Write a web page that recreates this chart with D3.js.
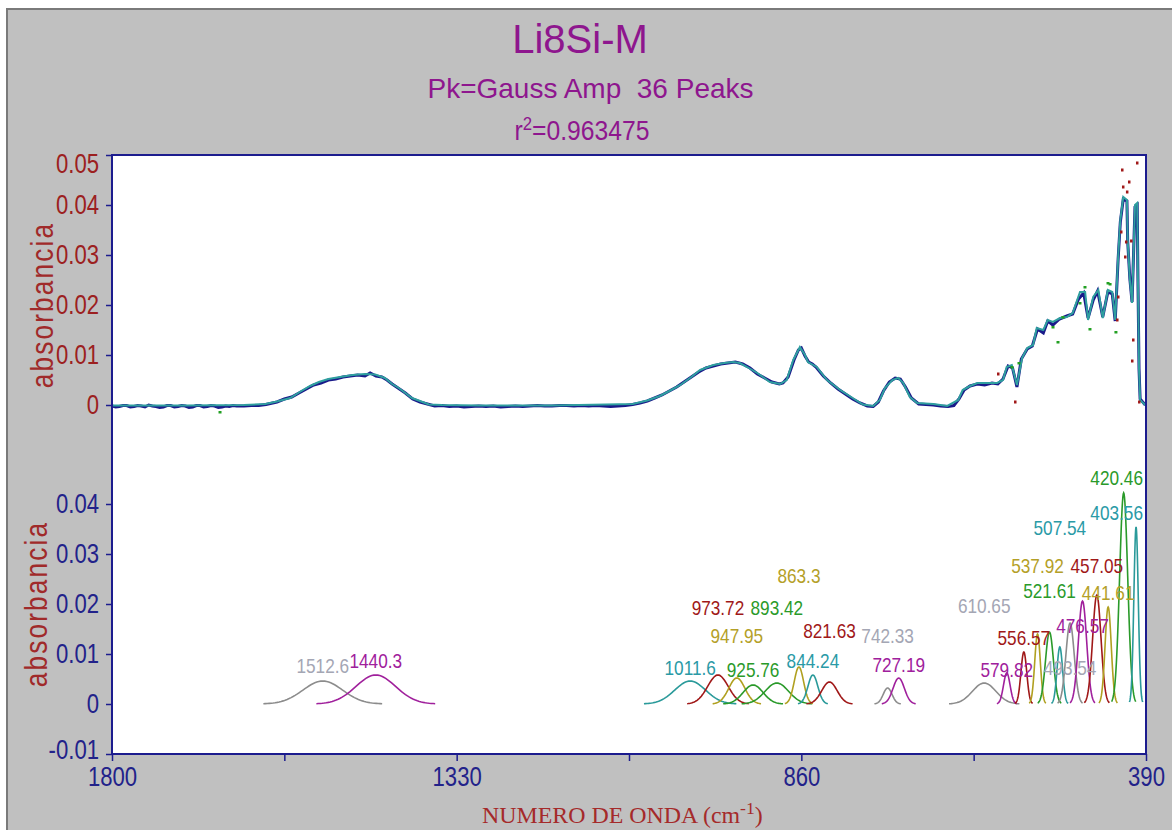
<!DOCTYPE html>
<html><head><meta charset="utf-8">
<script src="https://cdn.jsdelivr.net/npm/d3@7"></script>
<style>
html,body{margin:0;padding:0;background:#fff;}
svg{display:block;font-family:"Liberation Sans",Arial,sans-serif;}
</style></head><body>
<svg id="chart" width="1172" height="830"></svg>
<script>
// ---------------- DATA ----------------
const titleText = "Li8Si-M";
const subtitleText = "Pk=Gauss Amp  36 Peaks";
const r2Text = "0.963475";
const yAxisTitle = "absorbancia";
const xAxisTitle = "NUMERO DE ONDA (cm";

const xMajorTicks = [1800, 1330, 860, 390];
const xMinorTicks = [1565, 1095, 625];
const yTopTicks = [0, 0.01, 0.02, 0.03, 0.04, 0.05];
const yBotTicks = [-0.01, 0, 0.01, 0.02, 0.03, 0.04];

// fitted spectrum [wavenumber, absorbance]
const fitCurve = [
 [1800,-0.0001],[1700,-0.0001],[1620,0],[1591,0.0002],[1575,0.0007],[1557,0.0014],[1544,0.0026],
 [1530,0.0038],[1518,0.0046],[1505,0.0052],[1489,0.0056],[1472,0.006],[1455,0.0062],[1441,0.0061],
 [1428,0.0054],[1418,0.0042],[1409,0.0034],[1400,0.0024],[1391,0.0014],[1380,0.0008],[1368,0.0001],
 [1350,0],[1300,-0.0001],[1200,-0.0001],[1090,0.0002],[1070,0.0009],[1053,0.0018],[1040,0.0028],
 [1025,0.004],[1010,0.0056],[998,0.007],[980,0.008],[965,0.0084],[953,0.0086],[944,0.0084],
 [934,0.0076],[920,0.0064],[903,0.0046],[889,0.0042],[880,0.005],[871,0.009],[862,0.0116],
 [855,0.01],[851,0.0086],[839,0.0076],[825,0.005],[807,0.003],[790,0.0014],[776,0.0001],
 [762,-0.0002],[753,0.001],[746,0.0034],[736,0.005],[728,0.0054],[721,0.0044],[712,0.0016],
 [702,0.0004],[680,0.0002],[661,-0.0002],[646,0.001],[640,0.003],[630,0.0038],[620,0.0044],
 [593,0.0044],[585,0.005],[580,0.0076],[573,0.008],[566,0.004],[559,0.0094],[552,0.0114],
 [544,0.012],[539,0.0154],[530,0.015],[524,0.017],[517,0.0166],[507,0.0174],[498,0.0176],
 [490,0.0184],[480,0.0226],[473,0.0226],[469,0.017],[462,0.0216],[455,0.023],[449,0.0174],
 [442,0.023],[436,0.0226],[432,0.017],[428,0.0296],[425,0.037],[421,0.0416],[416,0.041],
 [415,0.033],[412,0.025],[409,0.0204],[405,0.04],[402,0.0404],[401,0.0256],[399.5,0.007],
 [398,0.001],[391,0]
];

// measured spectrum [wavenumber, absorbance]
const measured = [
 [1800,-0.0002],[1795,-0.0004],[1790,-0.0003],[1785,-0.0001],[1780,-0.0001],[1775,-0.0004],[1770,-0.0003],
 [1765,-0.0001],[1760,-0.0002],[1755,-0.0004],[1750,0],[1745,-0.0002],[1740,-0.0003],[1735,-0.0005],
 [1730,-0.0004],[1725,-0.0001],[1720,-0.0001],[1715,-0.0004],[1710,-0.0003],[1705,-0.0001],[1700,-0.0002],
 [1695,-0.0005],[1690,-0.0004],[1685,-0.0001],[1680,-0.0001],[1675,-0.0004],[1670,-0.0003],[1665,-0.0001],
 [1660,-0.0002],[1655,-0.0005],[1650,-0.0004],[1645,-0.0002],[1640,-0.0003],[1635,-0.0001],[1630,-0.0002],
 [1620,-0.0002],[1610,-0.0001],[1600,-0.0001],[1590,0.0001],[1575,0.0006],[1565,0.0012],[1555,0.0016],
 [1545,0.0024],[1535,0.0032],[1525,0.004],[1515,0.0044],[1505,0.005],[1495,0.0052],[1485,0.0056],
 [1475,0.0058],[1465,0.006],[1455,0.0058],[1448,0.0064],[1440,0.0058],[1432,0.0056],[1425,0.005],
 [1418,0.0042],[1410,0.0034],[1400,0.0024],[1390,0.0012],[1380,0.0006],[1370,0.0002],[1360,-0.0002],
 [1350,-0.0001],[1340,-0.0003],[1330,-0.0002],[1320,-0.0004],[1310,-0.0003],[1300,-0.0002],
 [1290,-0.0003],[1280,-0.0002],[1270,-0.0004],[1260,-0.0003],[1250,-0.0002],[1240,-0.0003],
 [1230,-0.0002],[1220,-0.0001],[1210,-0.0002],[1200,-0.0002],[1190,-0.0001],[1180,-0.0001],
 [1170,-0.0002],[1160,-0.0001],[1150,-0.0002],[1140,-0.0001],[1130,-0.0002],[1120,-0.0003],
 [1110,-0.0002],[1100,-0.0001],[1090,0.0001],[1080,0.0004],[1070,0.0008],[1060,0.0014],
 [1050,0.002],[1040,0.0028],[1030,0.0036],[1020,0.0046],[1010,0.0056],[1000,0.0066],[990,0.0074],
 [980,0.0078],[970,0.0082],[960,0.0084],[950,0.0086],[940,0.0082],[930,0.0074],[920,0.0062],
 [910,0.0054],[900,0.0046],[890,0.0042],[885,0.0044],[878,0.0056],[870,0.009],[864,0.011],
 [860,0.0114],[855,0.0098],[850,0.0086],[845,0.0082],[840,0.0076],[830,0.0058],[820,0.0044],
 [810,0.0032],[800,0.0022],[790,0.0012],[780,0.0004],[770,-0.0002],[762,-0.0003],[755,0.0006],
 [748,0.0028],[740,0.0046],[732,0.0054],[725,0.0052],[718,0.0036],[710,0.0014],[700,0.0002],
 [690,0.0001],[680,0],[670,-0.0002],[660,-0.0003],[652,-0.0001],[645,0.0012],[638,0.003],
 [630,0.0038],[620,0.0042],[610,0.004],[600,0.0044],[592,0.0042],[585,0.0052],[578,0.0078],
 [572,0.0074],[566,0.0036],[560,0.0092],[552,0.0112],[545,0.0118],[538,0.0152],[530,0.0144],
 [524,0.0168],[517,0.016],[508,0.0172],[498,0.0178],[490,0.0182],[482,0.0212],[475,0.0224],
 [469,0.0174],[462,0.021],[456,0.0228],[449,0.0176],[442,0.0226],[436,0.0222],[432,0.0168],
 [428,0.0292],[425,0.0366],[421,0.0412],[416,0.0408],[415,0.0328],[412,0.0252],[409,0.0206],
 [405,0.0396],[402,0.04],[401,0.0254],[399.5,0.0072],[398,0.0012],[391,0]
];

// scattered outlier points
const redPoints = [
 [422.7,0.047],[402.3,0.0484],[413.2,0.0446],[421.4,0.0436],[416,0.0426],[424.1,0.0346],
 [410.4,0.0328],[417.3,0.0326],[418.6,0.0296],[428.2,0.0216],[429.5,0.017],[407.7,0.013],
 [409.1,0.0088],[399.5,0.0006],[568.6,0.0006],[591.8,0.0062]
];
const greenPoints = [
 [473.2,0.0236],[441.8,0.0244],[439,0.0242],[466.4,0.0152],[431,0.0146],[510,0.0126],
 [503.2,0.0176],[516.8,0.0156],[480,0.0204],[563.2,0.0084],[572.7,0.0076],[1652.7,-0.0014]
];

// fitted Gaussian peaks
const peakCenters = [1512.6,1440.3,1011.6,973.72,947.95,925.76,893.42,863.3,844.24,821.63,742.33,727.19,
 610.65,579.82,556.57,537.92,521.61,507.54,493.54,476.57,457.05,441.61,420.46,403.56];
const peakAmps = [0.0046,0.0058,0.0046,0.0058,0.0052,0.0038,0.0042,0.0074,0.0058,0.0044,0.0032,0.0052,
 0.0042,0.0062,0.0104,0.014,0.0144,0.0114,0.0162,0.0206,0.0218,0.0194,0.0422,0.0354];
const peakSigmas = [27,27,21,14,11,13.6,16,6.4,6.8,10.5,6,7.7,16,4.5,4,3.8,5.4,3.8,5.7,5.7,5.7,4.2,5.5,3];

// ---------------- STYLE / LAYOUT ----------------
const palette = {gray:"#8c8c8c", purple:"#a0209c", teal:"#2a9a9a", red:"#a01818", olive:"#b0a020", green:"#2a9a2a"};
const labelPalette = {gray:"#a4a6b4", purple:"#a0209c", teal:"#2a9aa6", red:"#a01818", olive:"#b4a028", green:"#2a9a2a"};
const peakColors = ["gray","purple","teal","red","olive","green","green","olive","teal","red","gray","purple",
 "gray","purple","red","olive","green","teal","gray","purple","red","olive","green","teal"];
const labelLevels = [0.0062,0.0072,0.0058,0.0178,0.0122,0.0054,0.0178,0.0242,0.0072,0.0132,0.0122,0.0064,
 0.0182,0.0054,0.0118,0.0262,0.0212,0.0338,0.0058,0.0142,0.0262,0.0208,0.0438,0.0368];

const P = {left:112, right:1146, top:155, bottom:754};
const NAVY = "#1c1c8e", DARKRED = "#9c2020", TITLE = "#8e168e";

const svg = d3.select("#chart");
svg.append("rect").attr("width",1172).attr("height",830).attr("fill","#fff");
svg.append("rect").attr("x",7).attr("y",9).attr("width",1170).attr("height",830).attr("fill","#c0c0c0");
svg.append("path").attr("d","M7,830V9H1172").attr("fill","none").attr("stroke","#7a7a7a").attr("stroke-width",2);
svg.append("rect").attr("x",P.left).attr("y",P.top).attr("width",P.right-P.left).attr("height",P.bottom-P.top).attr("fill","#fff");

const x = d3.scaleLinear().domain([1800,390]).range([P.left,P.right]);
const yTop = d3.scaleLinear().domain([-0.01,0.05]).range([455,155]);
const yBot = d3.scaleLinear().domain([-0.01,0.05]).range([754,454]);

const defs = svg.append("defs");
defs.append("clipPath").attr("id","clipAll").append("rect")
  .attr("x",P.left).attr("y",P.top).attr("width",P.right-P.left).attr("height",P.bottom-P.top);

function ntext(g, o){
  const sx = o.sx || 0.82;
  return g.append("text")
    .attr("transform",`translate(${o.x},${o.y}) scale(${sx},1)`)
    .attr("text-anchor",o.anchor||"middle")
    .attr("font-size",o.size).attr("fill",o.fill)
    .style("white-space","pre")
    .text(o.text);
}

// Titles
svg.append("text").attr("x",580).attr("y",53).attr("text-anchor","middle")
  .attr("font-size",40).attr("fill",TITLE).text(titleText);
svg.append("text").attr("x",590.5).attr("y",98).attr("text-anchor","middle")
  .attr("font-size",28).attr("fill",TITLE).style("white-space","pre").text(subtitleText);
{
  const t = svg.append("text").attr("text-anchor","middle").attr("font-size",28).attr("fill",TITLE);
  t.append("tspan").text("r");
  t.append("tspan").attr("font-size",19).attr("dy",-10).text("2");
  t.append("tspan").attr("dy",10).text("=" + r2Text);
  const w = t.node().getComputedTextLength();
  t.attr("transform",`translate(582,140) scale(${135/w},1)`);
}

// Lines for top plot
const plotG = svg.append("g").attr("clip-path","url(#clipAll)");
const lineTop = d3.line().x(d=>x(d[0])).y(d=>yTop(d[1]));
plotG.append("path").datum(measured).attr("d",lineTop).attr("fill","none")
  .attr("stroke","#1a1a8a").attr("stroke-width",3);
plotG.append("path").datum(fitCurve).attr("d",lineTop).attr("fill","none")
  .attr("stroke","#2f9f9f").attr("stroke-width",2);
plotG.selectAll("rect.red").data(redPoints).join("rect").attr("class","red")
  .attr("x",d=>x(d[0])-1).attr("y",d=>yTop(d[1])-1.5).attr("width",2.5).attr("height",3).attr("fill","#a01818");
plotG.selectAll("rect.grn").data(greenPoints).join("rect").attr("class","grn")
  .attr("x",d=>x(d[0])-1.5).attr("y",d=>yTop(d[1])-1).attr("width",3).attr("height",2.5).attr("fill","#22a022");

// Peaks in bottom plot
const lineBot = d3.line().x(d=>x(d[0])).y(d=>yBot(d[1]));
peakCenters.forEach((c,i)=>{
  const s = peakSigmas[i], a = peakAmps[i];
  const pts = d3.range(-3, 3.0001, 0.1).map(k=>[c + k*s, a*Math.exp(-k*k/2)]);
  plotG.append("path").datum(pts).attr("d",lineBot).attr("fill","none")
    .attr("stroke",palette[peakColors[i]]).attr("stroke-width",1.6);
});
const labG = svg.append("g");
peakCenters.forEach((c,i)=>{
  const t = ntext(labG,{x:0,y:0,text:String(c),size:21,fill:labelPalette[peakColors[i]]});
  const w = t.node().getComputedTextLength()*0.82;
  let cx = x(c);
  if (cx + w/2 > P.right - 3) cx = P.right - 3 - w/2;
  t.attr("transform",`translate(${cx},${yBot(labelLevels[i])}) scale(0.82,1)`);
});

// Axes
function narrowAxis(g, f){
  g.selectAll(".tick text").each(function(){
    const t = d3.select(this);
    const xx = +t.attr("x") || 0;
    t.attr("x", xx/f).attr("transform",`scale(${f},1)`);
  });
}
const fmt = d => d===0 ? "0" : d3.format(".2f")(d).replace("\u2212","-");
const axTop = svg.append("g").attr("transform",`translate(${P.left},0)`)
  .call(d3.axisLeft(yTop).tickValues(yTopTicks).tickFormat(fmt).tickSize(6).tickPadding(7));
const axBot = svg.append("g").attr("transform",`translate(${P.left},0)`)
  .call(d3.axisLeft(yBot).tickValues(yBotTicks).tickFormat(fmt).tickSize(6).tickPadding(7));
const axX = svg.append("g").attr("transform",`translate(0,${P.bottom})`)
  .call(d3.axisBottom(x).tickValues(xMajorTicks).tickFormat(d3.format("d")).tickSize(7).tickPadding(6));
const axXm = svg.append("g").attr("transform",`translate(0,${P.bottom})`)
  .call(d3.axisBottom(x).tickValues(xMinorTicks).tickFormat("").tickSize(7));
[axTop,axBot,axX,axXm].forEach(g=>{
  g.select(".domain").remove();
  g.selectAll(".tick line").attr("stroke",NAVY).attr("stroke-width",1.5);
  g.selectAll(".tick text").attr("font-size",27).attr("font-family","Liberation Sans, Arial, sans-serif");
});
axTop.selectAll(".tick text").attr("fill",DARKRED);
axBot.selectAll(".tick text").attr("fill","#22228a");
axX.selectAll(".tick text").attr("fill","#22228a");
narrowAxis(axTop,0.82); narrowAxis(axBot,0.82); narrowAxis(axX,0.82);
axTop.selectAll(".tick").filter(d=>d===0.05).select("text").attr("dy","0.65em");
axBot.selectAll(".tick").filter(d=>d===-0.01).select("text").attr("dy","0.15em");

// Plot border
svg.append("rect").attr("x",P.left).attr("y",P.top).attr("width",P.right-P.left).attr("height",P.bottom-P.top)
  .attr("fill","none").attr("stroke",NAVY).attr("stroke-width",2);

// Axis titles
[[53,305],[47,604]].forEach(([bx,cy])=>{
  svg.append("text").attr("transform",`translate(${bx},${cy}) rotate(-90) scale(0.82,1)`)
    .attr("text-anchor","middle").attr("font-size",32).attr("letter-spacing",2.6)
    .attr("fill","#a02a2a").text(yAxisTitle);
});
{
  const t = svg.append("text").attr("font-family","Liberation Serif, Times New Roman, serif")
    .attr("font-size",23).attr("fill","#a52a2a");
  t.append("tspan").text(xAxisTitle);
  t.append("tspan").attr("font-size",17).attr("dy",-9).text("-1");
  t.append("tspan").attr("dy",9).text(")");
  const w = t.node().getComputedTextLength();
  t.attr("transform",`translate(482,823) scale(${281/w},1)`);
}
</script>
</body></html>
